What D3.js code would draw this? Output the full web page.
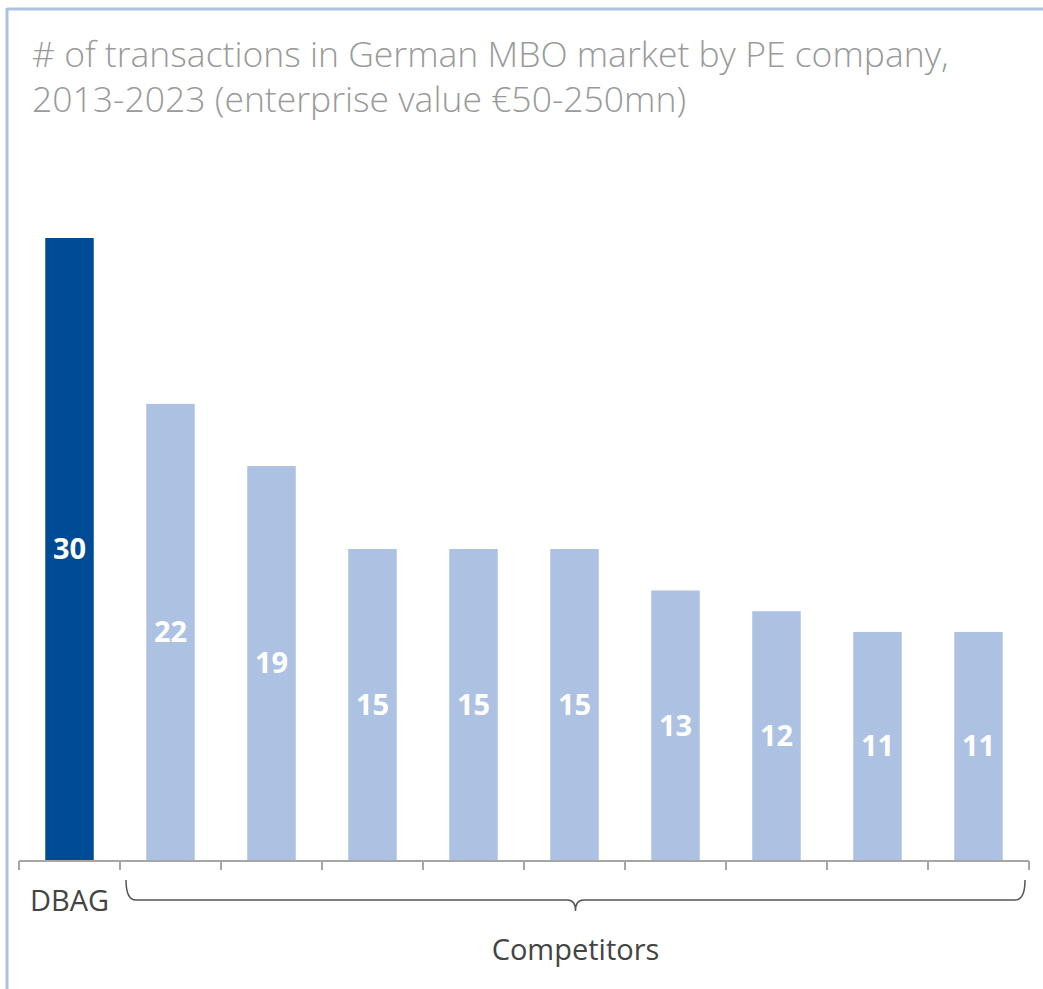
<!DOCTYPE html>
<html>
<head>
<meta charset="utf-8">
<script src="https://cdn.jsdelivr.net/npm/d3@7"></script>
<style>
  body { margin: 0; background: #fff; }
  svg { display: block; font-family: "Open Sans", "Noto Sans", sans-serif; }
</style>
</head>
<body>
<svg id="canvas" width="1043" height="989"></svg>
<script>
// data
const categories = ['DBAG', 'C1', 'C2', 'C3', 'C4', 'C5', 'C6', 'C7', 'C8', 'C9'];
const values = [30, 22, 19, 15, 15, 15, 13, 12, 11, 11];
const titleLines = ['# of transactions in German MBO market by PE company,',
                    '2013-2023 (enterprise value €50-250mn)'];
const groupLabels = ['DBAG', 'Competitors'];

const svg = d3.select('#canvas');

// frame (light blue top + left rule)
svg.append('line').attr('x1', 7).attr('x2', 1043).attr('y1', 9).attr('y2', 9)
   .attr('stroke', '#adc2e3').attr('stroke-width', 3);
svg.append('line').attr('x1', 7).attr('x2', 7).attr('y1', 8).attr('y2', 989)
   .attr('stroke', '#adc2e3').attr('stroke-width', 3);

// title
svg.append('text')
   .attr('fill', '#9a9a9a').attr('font-size', 35.5).attr('font-weight', 300)
   .selectAll('tspan').data(titleLines).join('tspan')
     .attr('x', 32).attr('y', (d, i) => 67 + i * 45)
     .text(d => d);

// scales
const x = d3.scaleBand().domain(categories).range([19, 1029]).paddingInner(0.52).paddingOuter(0.26);
const y = d3.scaleLinear().domain([0, 30]).range([860, 238]);

// bars
svg.selectAll('rect.bar').data(values).join('rect')
   .attr('class', 'bar')
   .attr('x', (d, i) => x(categories[i]))
   .attr('width', x.bandwidth())
   .attr('y', d => y(d))
   .attr('height', d => y(0) - y(d))
   .attr('fill', (d, i) => i === 0 ? '#004b96' : '#adc2e3');

// value labels in the middle of each bar
svg.selectAll('text.val').data(values).join('text')
   .attr('class', 'val')
   .attr('x', (d, i) => x(categories[i]) + x.bandwidth() / 2)
   .attr('y', d => (y(d) + y(0)) / 2)
   .attr('dy', '0.36em')
   .attr('text-anchor', 'middle')
   .attr('fill', '#fff').attr('font-weight', 700).attr('font-size', 29)
   .text(d => d);

// axis: baseline with ticks at band boundaries
const step = x.step();
const axisG = svg.append('g').attr('stroke', '#a6a6a6').attr('stroke-width', 2);
axisG.append('line').attr('x1', 19).attr('x2', 1029).attr('y1', 861).attr('y2', 861);
axisG.selectAll('line.tick').data(d3.range(categories.length + 1)).join('line')
   .attr('class', 'tick')
   .attr('x1', i => 19 + i * step).attr('x2', i => 19 + i * step)
   .attr('y1', 861).attr('y2', 870);

// DBAG label
svg.append('text')
   .attr('x', x('DBAG') + x.bandwidth() / 2).attr('y', 911)
   .attr('text-anchor', 'middle')
   .attr('fill', '#444').attr('font-size', 29)
   .text(groupLabels[0]);

// brace under competitors
const bx0 = 19 + step + 6, bx1 = 1029 - 4, bmid = (bx0 + bx1) / 2;
const by = 900;
svg.append('path')
   .attr('d', `M${bx0},880 Q${bx0},${by} ${bx0 + 10},${by} L${bmid - 8},${by} Q${bmid},${by} ${bmid},${by + 11}`
            + ` Q${bmid},${by} ${bmid + 8},${by} L${bx1 - 10},${by} Q${bx1},${by} ${bx1},880`)
   .attr('fill', 'none').attr('stroke', '#555').attr('stroke-width', 1.5);

svg.append('text')
   .attr('x', bmid).attr('y', 960)
   .attr('text-anchor', 'middle')
   .attr('fill', '#444').attr('font-size', 29)
   .text(groupLabels[1]);
</script>
</body>
</html>
